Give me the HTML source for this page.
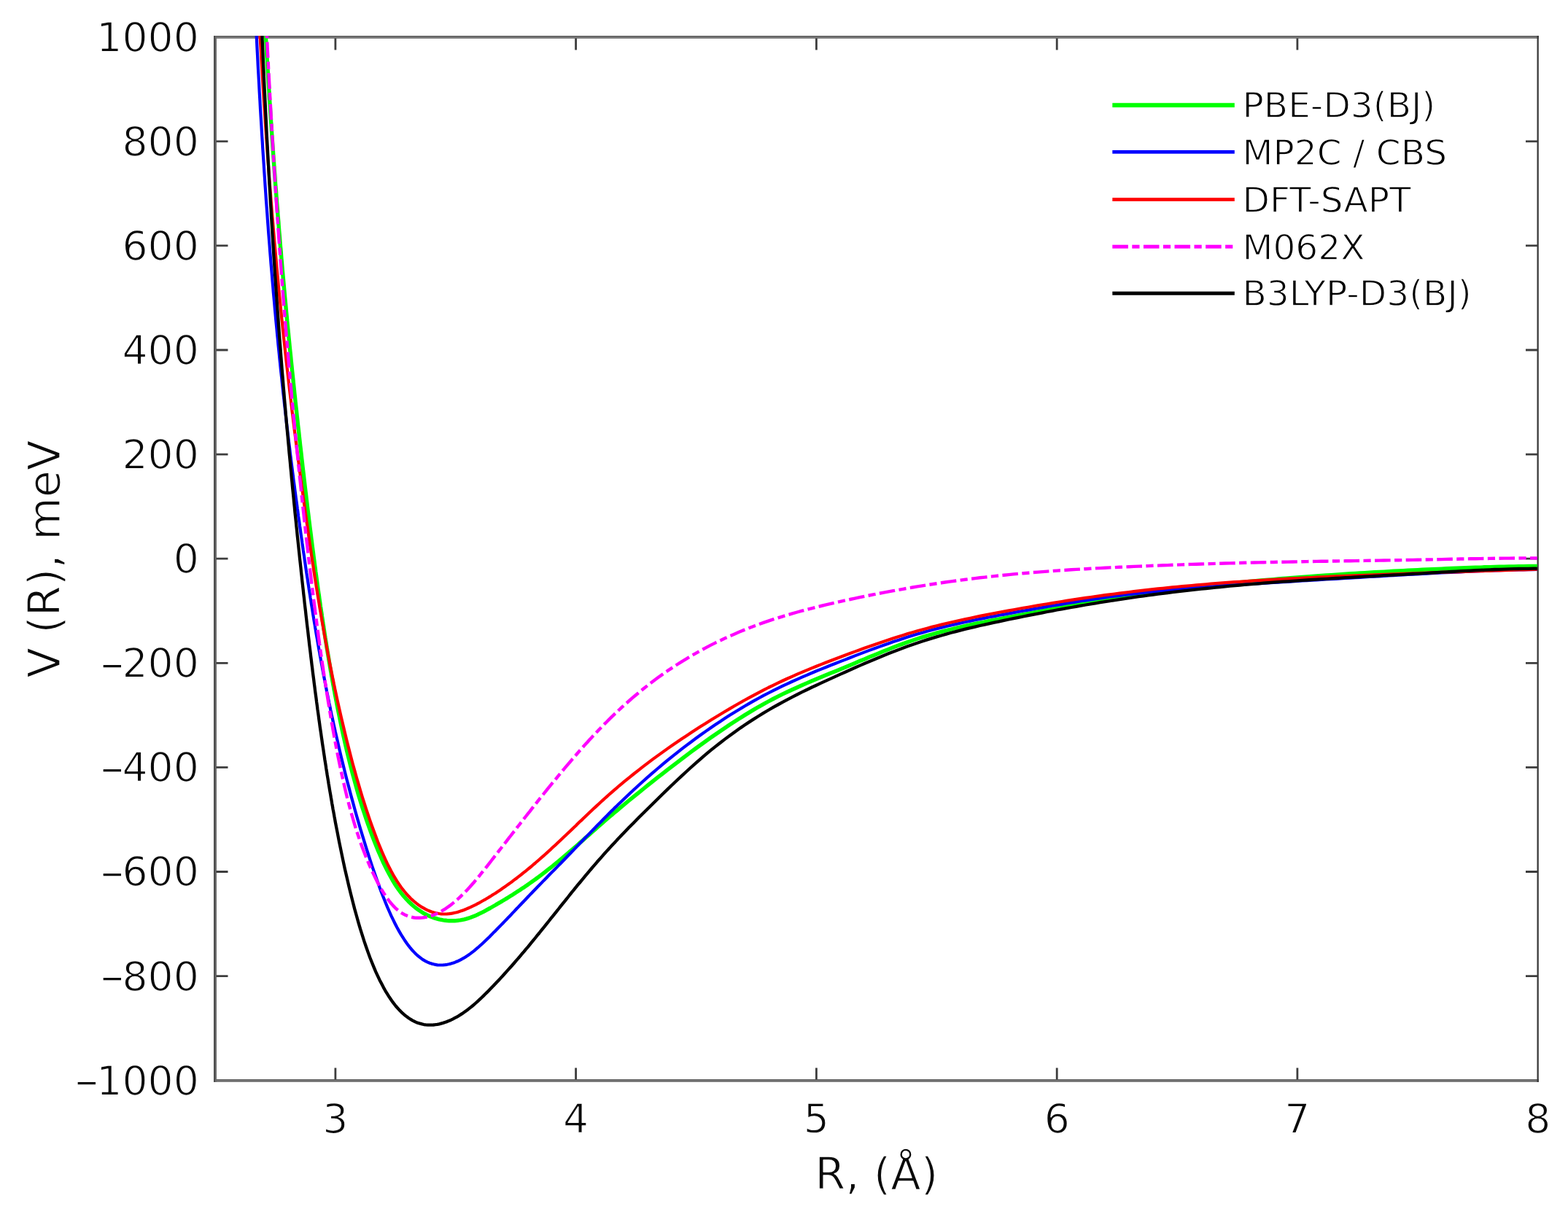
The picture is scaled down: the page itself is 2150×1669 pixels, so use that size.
<!DOCTYPE html>
<html lang="en">
<head>
<meta charset="utf-8">
<title>V(R) interaction potential curves</title>
<style>
html,body{margin:0;padding:0;background:#fff;}
body{width:2150px;height:1669px;overflow:hidden;}
svg{display:block;}
text{font-family:"DejaVu Sans","Liberation Sans",sans-serif;fill:#0a0a0a;stroke:#fff;stroke-width:1.3px;stroke-linejoin:round;}
.tk{font-size:55.2px;}
.lb{font-size:60.5px;}
.lg{font-size:48.6px;fill:#000;}
.t{stroke:#3d3d3d;stroke-width:2.8;fill:none;}
.c{fill:none;stroke-linejoin:round;stroke-linecap:butt;}
</style>
</head>
<body>
<svg xmlns="http://www.w3.org/2000/svg" width="2150" height="1669" viewBox="0 0 2150 1669">
<rect width="2150" height="1669" fill="#fff"/>
<defs><clipPath id="ax"><rect x="293" y="49.2" width="1814.8" height="1433"/></clipPath></defs>
<g id="spines">
<rect x="293" y="49" width="1817" height="2" fill="#676767"/><rect x="293" y="51" width="1817" height="2" fill="#808080"/>
<rect x="293" y="1480" width="1817" height="2" fill="#6b6b6b"/><rect x="293" y="1482" width="1817" height="2" fill="#7b7b7b"/>
<rect x="293" y="49" width="2" height="1435" fill="#4e4e4e"/><rect x="295" y="49" width="2" height="1435" fill="#6a6a6a"/>
<rect x="2107.5" y="49" width="2.3" height="1435" fill="#3a3a3a"/>
</g>
<path class="t" d="M459.9 1480.5v-16.0M459.9 52.5v16.0M789.6 1480.5v-16.0M789.6 52.5v16.0M1119.4 1480.5v-16.0M1119.4 52.5v16.0M1449.2 1480.5v-16.0M1449.2 52.5v16.0M1778.9 1480.5v-16.0M1778.9 52.5v16.0M296.5 1338.6h16.0M2108.0 1338.6h-16.0M296.5 1195.5h16.0M2108.0 1195.5h-16.0M296.5 1052.4h16.0M2108.0 1052.4h-16.0M296.5 909.3h16.0M2108.0 909.3h-16.0M296.5 766.2h16.0M2108.0 766.2h-16.0M296.5 623.1h16.0M2108.0 623.1h-16.0M296.5 480.0h16.0M2108.0 480.0h-16.0M296.5 336.9h16.0M2108.0 336.9h-16.0M296.5 193.8h16.0M2108.0 193.8h-16.0"/>
<g clip-path="url(#ax)">
<path class="c" d="M360.3 -27.0l0.7 12.8l0.6 12.6l0.7 12.4l0.6 12.2l0.7 12l0.7 11.8l0.6 11.6l0.7 11.4l0.6 11.3l0.7 11l0.7 10.9l0.6 10.8l0.7 10.5l0.6 10.5l0.7 10.2l0.7 10.2l0.6 9.9l0.7 9.9l0.6 9.7l0.7 9.5l0.7 9.5l0.6 9.3l0.7 9.2l0.6 9.1l0.7 8.9l0.6 8.9l0.7 8.7l0.7 8.7l0.6 8.5l0.7 8.5l0.6 8.3l0.7 8.3l0.7 8.1l0.6 8.1l0.7 8l0.6 7.9l0.7 7.8l0.7 7.7l0.6 7.7l0.7 7.5l0.6 7.5l0.7 7.5l0.7 7.3l0.6 7.3l0.7 7.2l0.6 7.2l0.7 7.1l0.7 7l0.6 7l0.7 6.9l0.6 6.9l0.7 6.8l0.7 6.7l0.6 6.7l0.7 6.7l0.6 6.6l0.7 6.5l0.7 6.5l0.6 6.5l0.7 6.4l0.6 6.4l0.7 6.4l0.7 6.3l0.6 6.2l0.7 6.3l0.6 6.2l0.7 6.1l0.6 6.2l0.7 6.1l0.7 6l0.6 6.1l0.7 6l0.6 6l0.7 5.9l0.7 6l0.6 5.9l0.7 5.9l0.6 5.9l0.7 5.8l0.7 5.8l0.6 5.8l0.7 5.8l0.6 5.7l0.7 5.8l0.7 5.7l0.6 5.6l0.7 5.7l0.6 5.6l0.7 5.6l0.7 5.5l0.6 5.5l0.7 5.5l0.6 5.5l0.7 5.4l0.7 5.4l0.6 5.4l0.7 5.4l0.6 5.3l0.7 5.3l0.7 5.2l0.6 5.2l0.7 5.2l0.6 5.1l0.7 5.2l0.7 5l0.6 5.1l0.7 5l0.6 5l0.7 4.9l0.6 5l0.7 4.8l0.7 4.9l0.6 4.8l0.7 4.8l0.6 4.7l0.7 4.7l0.7 4.7l0.6 4.6l0.7 4.6l0.6 4.6l0.7 4.5l0.7 4.5l0.6 4.4l0.7 4.4l0.6 4.4l0.7 4.4l0.7 4.3l0.6 4.2l0.7 4.3l0.6 4.2l0.7 4.1l0.7 4.2l0.6 4.1l0.7 4l0.6 4l0.7 4l0.7 4l0.6 3.9l0.7 3.9l0.6 3.9l0.7 3.8l0.7 3.8l0.6 3.7l0.7 3.7l0.6 3.7l0.7 3.7l0.7 3.6l0.6 3.6l0.7 3.5l0.6 3.6l0.7 3.5l2.6 13.6l2.7 13.2l2.6 12.7l2.6 12.3l2.7 11.8l2.6 11.3l2.7 10.9l2.6 10.5l2.6 10.2l2.7 9.7l2.6 9.4l2.6 9.1l2.7 8.7l2.6 8.5l2.7 8.1l2.6 7.9l2.6 7.6l2.7 7.4l2.6 7.1l2.7 7l2.6 6.6l2.6 6.5l2.7 6.2l2.6 6l2.6 5.8l2.7 5.5l2.6 5.2l2.7 5.1l2.6 4.7l2.6 4.6l2.7 4.3l2.6 4l2.6 3.8l2.7 3.6l2.6 3.3l2.7 3.1l2.6 3l2.6 2.7l2.7 2.6l2.6 2.4l2.7 2.3l2.6 2.1l2.6 1.9l2.7 1.8l2.6 1.7l2.6 1.6l2.7 1.4l2.6 1.3l2.7 1.2l2.6 1.1l2.6 1l2.7 0.8l2.6 0.8l2.6 0.7l2.7 0.5l2.6 0.5l2.7 0.3l2.6 0.3l2.6 0.2l2.7 0.1l2.6 -0l2.7 -0.1l2.6 -0.2l2.6 -0.3l2.7 -0.4l2.6 -0.5l2.6 -0.5l2.7 -0.7l2.6 -0.8l2.7 -0.8l2.6 -1l2.6 -1l2.7 -1.1l2.6 -1.2l2.6 -1.3l2.7 -1.3l2.6 -1.3l2.7 -1.4l2.6 -1.5l2.6 -1.4l2.7 -1.5l2.6 -1.5l2.7 -1.5l2.6 -1.6l2.6 -1.5l2.7 -1.5l2.6 -1.6l2.6 -1.6l2.7 -1.6l2.6 -1.6l2.7 -1.7l2.6 -1.6l2.6 -1.7l2.7 -1.7l2.6 -1.7l2.6 -1.7l2.7 -1.8l2.6 -1.7l2.7 -1.8l2.6 -1.9l2.6 -1.8l2.7 -1.9l2.6 -1.9l2.7 -1.9l2.6 -1.9l2.6 -2l2.7 -2l2.6 -2l2.6 -2l2.7 -2.1l2.6 -2l2.7 -2.1l2.6 -2.1l2.6 -2.2l2.7 -2.1l2.6 -2.2l2.6 -2.2l2.7 -2.2l2.6 -2.2l2.7 -2.3l2.6 -2.2l2.6 -2.3l2.7 -2.3l2.6 -2.3l2.7 -2.3l2.6 -2.3l2.6 -2.3l2.7 -2.4l2.6 -2.3l2.6 -2.4l2.7 -2.3l2.6 -2.3l2.7 -2.4l2.6 -2.3l2.6 -2.3l2.7 -2.4l2.6 -2.3l2.6 -2.3l2.7 -2.3l2.6 -2.3l2.7 -2.3l2.6 -2.2l2.6 -2.3l2.7 -2.2l2.6 -2.3l2.7 -2.2l2.6 -2.2l2.6 -2.2l2.7 -2.2l2.6 -2.2l0 -0l6.6 -5.5l6.6 -5.4l6.6 -5.3l6.6 -5.3l6.6 -5.3l6.6 -5.3l6.6 -5.2l6.6 -5.1l6.6 -5.2l6.6 -5.1l6.6 -5l6.5 -5l6.6 -5l6.6 -4.9l6.6 -4.9l6.6 -4.8l6.6 -4.7l6.6 -4.7l6.6 -4.6l6.6 -4.5l6.6 -4.5l6.6 -4.4l6.6 -4.3l6.6 -4.2l6.6 -4.2l6.6 -4l6.6 -3.9l6.6 -3.9l6.6 -3.7l6.6 -3.6l6.6 -3.5l6.6 -3.3l6.5 -3.3l6.6 -3.1l6.6 -3.1l6.6 -3l6.6 -2.9l6.6 -2.9l6.6 -2.8l6.6 -2.8l6.6 -2.7l6.6 -2.8l6.6 -2.7l6.6 -2.7l6.6 -2.7l6.6 -2.8l6.6 -2.7l6.6 -2.8l6.6 -2.8l6.6 -2.7l6.6 -2.8l6.6 -2.7l6.6 -2.7l6.5 -2.7l6.6 -2.6l6.6 -2.6l6.6 -2.5l6.6 -2.4l6.6 -2.4l6.6 -2.3l6.6 -2.2l6.6 -2.1l6.6 -2l6.6 -1.9l6.6 -1.9l6.6 -1.8l6.6 -1.7l6.6 -1.6l6.6 -1.6l6.6 -1.6l6.6 -1.4l6.6 -1.5l6.6 -1.4l6.6 -1.4l6.6 -1.3l6.5 -1.3l6.6 -1.3l6.6 -1.3l6.6 -1.3l6.6 -1.2l6.6 -1.3l6.6 -1.2l6.6 -1.3l6.6 -1.2l6.6 -1.3l6.6 -1.2l6.6 -1.3l6.6 -1.2l6.6 -1.2l6.6 -1.2l6.6 -1.3l6.6 -1.2l6.6 -1.1l6.6 -1.2l6.6 -1.2l6.6 -1.2l6.5 -1.1l6.6 -1.1l6.6 -1.1l6.6 -1.1l6.6 -1.1l6.6 -1.1l6.6 -1l6.6 -1.1l6.6 -1l6.6 -1l6.6 -1l6.6 -0.9l6.6 -0.9l6.6 -1l6.6 -0.9l6.6 -0.8l6.6 -0.9l6.6 -0.8l6.6 -0.9l6.6 -0.8l6.6 -0.8l6.5 -0.7l6.6 -0.8l6.6 -0.8l6.6 -0.7l6.6 -0.7l6.6 -0.7l6.6 -0.7l6.6 -0.7l6.6 -0.6l6.6 -0.7l6.6 -0.6l6.6 -0.6l6.6 -0.6l6.6 -0.6l6.6 -0.6l6.6 -0.6l6.6 -0.6l6.6 -0.5l6.6 -0.6l6.6 -0.5l6.6 -0.6l6.5 -0.5l6.6 -0.5l6.6 -0.5l6.6 -0.5l6.6 -0.5l6.6 -0.5l6.6 -0.4l6.6 -0.5l6.6 -0.4l6.6 -0.5l6.6 -0.4l6.6 -0.5l6.6 -0.4l6.6 -0.4l6.6 -0.4l6.6 -0.4l6.6 -0.4l6.6 -0.4l6.6 -0.4l6.6 -0.3l6.6 -0.4l6.5 -0.4l6.6 -0.3l6.6 -0.3l6.6 -0.4l6.6 -0.3l6.6 -0.4l6.6 -0.3l6.6 -0.3l6.6 -0.3l6.6 -0.3l6.6 -0.3l6.6 -0.3l6.6 -0.3l6.6 -0.2l6.6 -0.3l6.6 -0.3l6.6 -0.2l6.6 -0.2l6.6 -0.2l6.6 -0.3l6.6 -0.2l6.5 -0.1l6.6 -0.2l6.6 -0.2l6.6 -0.1l6.6 -0.1l6.6 -0.2l6.6 -0.1l6.6 -0.1l6.6 -0l6.6 -0.1l6.6 -0l6.6 -0l6.6 -0l6.6 -0l6.6 0l6.6 0.1" stroke="#00ff00" stroke-width="5.4"/>
<path class="c" d="M347.8 -33.6l0.7 14.7l0.6 14.5l0.7 14.2l0.6 13.9l0.7 13.6l0.7 13.4l0.6 13.1l0.7 12.9l0.6 12.7l0.7 12.4l0.7 12.3l0.6 12l0.7 11.7l0.6 11.6l0.7 11.4l0.7 11.2l0.6 11l0.7 10.8l0.6 10.6l0.7 10.4l0.7 10.3l0.6 10.1l0.7 9.9l0.6 9.8l0.7 9.7l0.6 9.4l0.7 9.4l0.7 9.1l0.6 9.1l0.7 8.9l0.6 8.8l0.7 8.6l0.7 8.6l0.6 8.4l0.7 8.3l0.6 8.1l0.7 8.1l0.7 8l0.6 7.8l0.7 7.7l0.6 7.7l0.7 7.5l0.7 7.5l0.6 7.3l0.7 7.3l0.6 7.2l0.7 7.1l0.7 7l0.6 7l0.7 6.8l0.6 6.8l0.7 6.7l0.7 6.7l0.6 6.5l0.7 6.5l0.6 6.4l0.7 6.4l0.7 6.3l0.6 6.2l0.7 6.2l0.6 6.1l0.7 6.1l0.7 5.9l0.6 6l0.7 5.9l0.6 5.8l0.7 5.8l0.6 5.7l0.7 5.7l0.7 5.6l0.6 5.6l0.7 5.5l0.6 5.5l0.7 5.4l0.7 5.4l0.6 5.4l0.7 5.3l0.6 5.3l0.7 5.2l0.7 5.3l0.6 5.1l0.7 5.2l0.6 5.1l0.7 5l0.7 5.1l0.6 5l0.7 5l0.6 4.9l0.7 4.9l0.7 4.9l0.6 4.9l0.7 4.8l0.6 4.9l0.7 4.8l0.7 4.7l0.6 4.8l0.7 4.7l0.6 4.7l0.7 4.7l0.7 4.6l0.6 4.7l0.7 4.6l0.6 4.6l0.7 4.5l0.7 4.6l0.6 4.5l0.7 4.5l0.6 4.4l0.7 4.5l0.6 4.4l0.7 4.4l0.7 4.4l0.6 4.3l0.7 4.3l0.6 4.3l0.7 4.3l0.7 4.2l0.6 4.2l0.7 4.2l0.6 4.2l0.7 4.1l0.7 4.1l0.6 4.1l0.7 4.1l0.6 4l0.7 4l0.7 4l0.6 4l0.7 3.9l0.6 3.9l0.7 3.9l0.7 3.8l0.6 3.9l0.7 3.8l0.6 3.7l0.7 3.8l0.7 3.7l0.6 3.7l0.7 3.7l0.6 3.6l0.7 3.6l0.7 3.6l0.6 3.6l0.7 3.5l0.6 3.5l0.7 3.5l0.7 3.5l0.6 3.4l0.7 3.4l0.6 3.4l0.7 3.3l0.6 3.3l0.7 3.4l0.7 3.2l0.6 3.3l0.7 3.2l0.6 3.2l0.7 3.2l0.7 3.2l0.6 3.1l0.7 3.2l0.6 3.1l0.7 3.1l0.7 3l0.6 3.1l0.7 3l0.6 3l0.7 3l0.7 3l0.6 2.9l2.7 11.6l2.6 11.3l2.6 11.1l2.7 10.8l2.6 10.6l2.6 10.4l2.7 10.1l2.6 10l2.7 9.7l2.6 9.6l2.6 9.4l2.7 9.2l2.6 9l2.7 8.8l2.6 8.6l2.6 8.5l2.7 8.3l2.6 8.1l2.6 8l2.7 7.8l2.6 7.6l2.7 7.4l2.6 7.3l2.6 7l2.7 6.8l2.6 6.6l2.6 6.3l2.7 6.1l2.6 5.8l2.7 5.6l2.6 5.3l2.6 5.1l2.7 4.8l2.6 4.5l2.7 4.3l2.6 4.1l2.6 3.8l2.7 3.6l2.6 3.3l2.6 3.1l2.7 2.8l2.6 2.6l2.7 2.4l2.6 2.1l2.6 2l2.7 1.7l2.6 1.4l2.6 1.3l2.7 1.1l2.6 0.9l2.7 0.7l2.6 0.6l2.6 0.4l2.7 0.2l2.6 0l2.7 -0.1l2.6 -0.2l2.6 -0.4l2.7 -0.5l2.6 -0.7l2.6 -0.8l2.7 -0.9l2.6 -1.1l2.7 -1.1l2.6 -1.4l2.6 -1.4l2.7 -1.5l2.6 -1.7l2.6 -1.7l2.7 -1.9l2.6 -2l2.7 -2l2.6 -2.2l2.6 -2.2l2.7 -2.4l2.6 -2.3l2.7 -2.5l2.6 -2.5l2.6 -2.5l2.7 -2.6l2.6 -2.6l2.6 -2.7l2.7 -2.6l2.6 -2.7l2.7 -2.7l2.6 -2.7l2.6 -2.7l2.7 -2.8l2.6 -2.7l2.6 -2.8l2.7 -2.7l2.6 -2.8l2.7 -2.8l2.6 -2.8l2.6 -2.7l2.7 -2.8l2.6 -2.8l2.7 -2.8l2.6 -2.7l2.6 -2.8l2.7 -2.8l2.6 -2.7l2.6 -2.7l2.7 -2.8l2.6 -2.7l2.7 -2.7l2.6 -2.7l2.6 -2.7l2.7 -2.7l2.6 -2.7l2.6 -2.7l2.7 -2.7l2.6 -2.7l2.7 -2.6l2.6 -2.7l2.6 -2.7l2.7 -2.7l2.6 -2.7l2.7 -2.8l2.6 -2.7l2.6 -2.7l2.7 -2.7l2.6 -2.8l2.6 -2.7l2.7 -2.8l2.6 -2.7l2.7 -2.8l2.6 -2.7l2.6 -2.8l2.7 -2.7l2.6 -2.7l2.7 -2.8l2.6 -2.7l2.6 -2.7l2.7 -2.7l2.6 -2.7l2.6 -2.7l2.7 -2.7l2.6 -2.7l2.7 -2.7l2.6 -2.6l2.6 -2.6l2.7 -2.7l2.6 -2.6l2.6 -2.6l2.7 -2.5l2.6 -2.6l2.7 -2.6l2.6 -2.5l2.6 -2.5l0 -0l6.6 -6.3l6.6 -6.1l6.6 -6.1l6.6 -6l6.6 -5.8l6.6 -5.8l6.6 -5.6l6.6 -5.6l6.6 -5.5l6.6 -5.3l6.6 -5.3l6.6 -5.1l6.6 -5.1l6.6 -4.9l6.6 -4.9l6.6 -4.8l6.6 -4.6l6.6 -4.6l6.5 -4.5l6.6 -4.4l6.6 -4.3l6.6 -4.3l6.6 -4.1l6.6 -4l6.6 -4l6.6 -3.8l6.6 -3.7l6.6 -3.7l6.6 -3.6l6.6 -3.4l6.6 -3.4l6.6 -3.3l6.6 -3.1l6.6 -3.1l6.6 -3.1l6.6 -2.9l6.6 -2.9l6.6 -2.9l6.6 -2.8l6.5 -2.7l6.6 -2.7l6.6 -2.6l6.6 -2.7l6.6 -2.6l6.6 -2.6l6.6 -2.5l6.6 -2.6l6.6 -2.6l6.6 -2.5l6.6 -2.5l6.6 -2.5l6.6 -2.4l6.6 -2.4l6.6 -2.4l6.6 -2.3l6.6 -2.3l6.6 -2.2l6.6 -2.2l6.6 -2.1l6.6 -2l6.5 -2l6.6 -1.9l6.6 -1.9l6.6 -1.8l6.6 -1.7l6.6 -1.7l6.6 -1.6l6.6 -1.5l6.6 -1.6l6.6 -1.4l6.6 -1.5l6.6 -1.4l6.6 -1.3l6.6 -1.4l6.6 -1.3l6.6 -1.3l6.6 -1.2l6.6 -1.3l6.6 -1.2l6.6 -1.2l6.6 -1.3l6.5 -1.2l6.6 -1.2l6.6 -1.1l6.6 -1.2l6.6 -1.2l6.6 -1.1l6.6 -1.2l6.6 -1.1l6.6 -1.1l6.6 -1.1l6.6 -1.1l6.6 -1.1l6.6 -1l6.6 -1.1l6.6 -1l6.6 -1l6.6 -1l6.6 -0.9l6.6 -1l6.6 -0.9l6.6 -0.9l6.5 -0.8l6.6 -0.9l6.6 -0.8l6.6 -0.8l6.6 -0.7l6.6 -0.8l6.6 -0.7l6.6 -0.7l6.6 -0.7l6.6 -0.6l6.6 -0.6l6.6 -0.7l6.6 -0.6l6.6 -0.5l6.6 -0.6l6.6 -0.5l6.6 -0.6l6.6 -0.5l6.6 -0.5l6.6 -0.4l6.6 -0.5l6.5 -0.5l6.6 -0.4l6.6 -0.5l6.6 -0.4l6.6 -0.5l6.6 -0.4l6.6 -0.4l6.6 -0.4l6.6 -0.4l6.6 -0.4l6.6 -0.4l6.6 -0.4l6.6 -0.4l6.6 -0.4l6.6 -0.4l6.6 -0.4l6.6 -0.4l6.6 -0.5l6.6 -0.4l6.6 -0.4l6.6 -0.4l6.6 -0.4l6.5 -0.4l6.6 -0.4l6.6 -0.3l6.6 -0.4l6.6 -0.4l6.6 -0.4l6.6 -0.4l6.6 -0.4l6.6 -0.4l6.6 -0.4l6.6 -0.4l6.6 -0.3l6.6 -0.4l6.6 -0.4l6.6 -0.4l6.6 -0.4l6.6 -0.3l6.6 -0.4l6.6 -0.4l6.6 -0.3l6.6 -0.4l6.5 -0.3l6.6 -0.4l6.6 -0.3l6.6 -0.4l6.6 -0.3l6.6 -0.3l6.6 -0.3l6.6 -0.3l6.6 -0.3l6.6 -0.3l6.6 -0.3l6.6 -0.3l6.6 -0.2l6.6 -0.3l6.6 -0.2l6.6 -0.2l6.6 -0.2l6.6 -0.2l6.6 -0.2l6.6 -0.1l6.6 -0.2l6.5 -0.1l6.6 -0.1l6.6 -0.1l6.6 -0l6.6 -0.1l6.6 0l6.6 0l6.6 0.1l6.6 0" stroke="#0000ff" stroke-width="4.2"/>
<path class="c" d="M352.4 -29.7l0.7 13.1l0.6 12.8l0.7 12.6l0.6 12.4l0.7 12.2l0.7 12l0.6 11.8l0.7 11.5l0.6 11.4l0.7 11.2l0.7 11l0.6 10.8l0.7 10.6l0.6 10.5l0.7 10.3l0.7 10.1l0.6 10l0.7 9.9l0.6 9.6l0.7 9.6l0.7 9.3l0.6 9.3l0.7 9.1l0.6 9l0.7 8.8l0.6 8.8l0.7 8.6l0.7 8.5l0.6 8.3l0.7 8.3l0.6 8.1l0.7 8.1l0.7 7.9l0.6 7.9l0.7 7.7l0.6 7.7l0.7 7.5l0.7 7.5l0.6 7.4l0.7 7.3l0.6 7.2l0.7 7.2l0.7 7l0.6 7l0.7 6.9l0.6 6.8l0.7 6.8l0.7 6.7l0.6 6.6l0.7 6.6l0.6 6.5l0.7 6.4l0.7 6.4l0.6 6.3l0.7 6.2l0.6 6.2l0.7 6.2l0.7 6.1l0.6 6l0.7 6l0.6 5.9l0.7 5.9l0.7 5.8l0.6 5.8l0.7 5.8l0.6 5.7l0.7 5.6l0.6 5.7l0.7 5.5l0.7 5.6l0.6 5.5l0.7 5.5l0.6 5.4l0.7 5.4l0.7 5.4l0.6 5.3l0.7 5.3l0.6 5.3l0.7 5.2l0.7 5.2l0.6 5.2l0.7 5.2l0.6 5.1l0.7 5.1l0.7 5.1l0.6 5.1l0.7 5.1l0.6 5l0.7 5l0.7 5l0.6 4.9l0.7 5l0.6 4.9l0.7 4.9l0.7 4.9l0.6 4.8l0.7 4.9l0.6 4.8l0.7 4.8l0.7 4.7l0.6 4.8l0.7 4.7l0.6 4.7l0.7 4.7l0.7 4.6l0.6 4.6l0.7 4.6l0.6 4.6l0.7 4.6l0.6 4.5l0.7 4.5l0.7 4.4l0.6 4.5l0.7 4.4l0.6 4.4l0.7 4.4l0.7 4.3l0.6 4.3l0.7 4.3l0.6 4.3l0.7 4.2l0.7 4.2l0.6 4.2l0.7 4.1l0.6 4.1l0.7 4.1l0.7 4.1l0.6 4l0.7 4l0.6 4l0.7 4l0.7 3.9l0.6 3.9l0.7 3.9l0.6 3.8l0.7 3.8l0.7 3.8l0.6 3.8l0.7 3.7l0.6 3.7l0.7 3.7l0.7 3.6l0.6 3.6l0.7 3.6l0.6 3.6l0.7 3.5l0.7 3.5l0.6 3.5l0.7 3.5l0.6 3.4l0.7 3.4l0.6 3.4l0.7 3.3l0.7 3.4l0.6 3.3l0.7 3.3l0.6 3.2l0.7 3.3l0.7 3.2l0.6 3.2l0.7 3.2l0.6 3.1l0.7 3.1l2.6 12.3l2.7 12l2.6 11.6l2.7 11.3l2.6 11l2.6 10.8l2.7 10.4l2.6 10.2l2.6 10l2.7 9.6l2.6 9.4l2.7 9.2l2.6 8.9l2.6 8.7l2.7 8.4l2.6 8.2l2.7 8l2.6 7.7l2.6 7.5l2.7 7.3l2.6 7l2.6 6.9l2.7 6.6l2.6 6.3l2.7 6.1l2.6 5.8l2.6 5.6l2.7 5.3l2.6 5.1l2.6 4.8l2.7 4.5l2.6 4.3l2.7 4l2.6 3.8l2.6 3.5l2.7 3.3l2.6 3.1l2.7 2.9l2.6 2.7l2.6 2.5l2.7 2.3l2.6 2.2l2.6 2l2.7 1.8l2.6 1.7l2.7 1.5l2.6 1.4l2.6 1.3l2.7 1.1l2.6 1l2.6 0.8l2.7 0.7l2.6 0.6l2.7 0.4l2.6 0.3l2.6 0.2l2.7 0l2.6 -0.1l2.7 -0.2l2.6 -0.4l2.6 -0.4l2.7 -0.6l2.6 -0.6l2.6 -0.8l2.7 -0.8l2.6 -0.9l2.7 -1l2.6 -1.1l2.6 -1.1l2.7 -1.1l2.6 -1.3l2.6 -1.2l2.7 -1.3l2.6 -1.4l2.7 -1.4l2.6 -1.5l2.6 -1.5l2.7 -1.5l2.6 -1.6l2.7 -1.6l2.6 -1.6l2.6 -1.7l2.7 -1.6l2.6 -1.8l2.6 -1.7l2.7 -1.8l2.6 -1.8l2.7 -1.8l2.6 -1.9l2.6 -1.9l2.7 -1.9l2.6 -1.9l2.6 -2l2.7 -2l2.6 -2l2.7 -2.1l2.6 -2.1l2.6 -2.1l2.7 -2.1l2.6 -2.1l2.7 -2.2l2.6 -2.2l2.6 -2.3l2.7 -2.2l2.6 -2.3l2.6 -2.3l2.7 -2.3l2.6 -2.3l2.7 -2.4l2.6 -2.3l2.6 -2.4l2.7 -2.4l2.6 -2.5l2.6 -2.4l2.7 -2.5l2.6 -2.4l2.7 -2.5l2.6 -2.5l2.6 -2.5l2.7 -2.5l2.6 -2.5l2.7 -2.5l2.6 -2.6l2.6 -2.5l2.7 -2.5l2.6 -2.6l2.6 -2.5l2.7 -2.5l2.6 -2.5l2.7 -2.6l2.6 -2.5l2.6 -2.5l2.7 -2.5l2.6 -2.5l2.6 -2.4l2.7 -2.5l2.6 -2.4l2.7 -2.4l2.6 -2.4l2.6 -2.4l2.7 -2.4l2.6 -2.3l2.7 -2.4l2.6 -2.3l2.6 -2.2l2.7 -2.3l2.6 -2.3l2.6 -2.2l2.7 -2.2l2.6 -2.2l0 0l6.6 -5.4l6.6 -5.3l6.6 -5.2l6.6 -5.1l6.6 -5l6.6 -5l6.6 -4.8l6.6 -4.8l6.6 -4.7l6.6 -4.6l6.6 -4.5l6.6 -4.5l6.6 -4.4l6.6 -4.3l6.5 -4.3l6.6 -4.2l6.6 -4.1l6.6 -4.2l6.6 -4l6.6 -4l6.6 -4l6.6 -3.9l6.6 -3.9l6.6 -3.8l6.6 -3.7l6.6 -3.6l6.6 -3.6l6.6 -3.5l6.6 -3.4l6.6 -3.4l6.6 -3.2l6.6 -3.2l6.6 -3.1l6.6 -3l6.6 -2.9l6.5 -2.9l6.6 -2.8l6.6 -2.8l6.6 -2.7l6.6 -2.7l6.6 -2.6l6.6 -2.6l6.6 -2.5l6.6 -2.5l6.6 -2.5l6.6 -2.5l6.6 -2.5l6.6 -2.4l6.6 -2.4l6.6 -2.4l6.6 -2.3l6.6 -2.3l6.6 -2.3l6.6 -2.2l6.6 -2.2l6.6 -2.2l6.5 -2.1l6.6 -2l6.6 -2.1l6.6 -1.9l6.6 -1.9l6.6 -1.8l6.6 -1.8l6.6 -1.8l6.6 -1.6l6.6 -1.7l6.6 -1.6l6.6 -1.5l6.6 -1.5l6.6 -1.5l6.6 -1.4l6.6 -1.4l6.6 -1.4l6.6 -1.4l6.6 -1.3l6.6 -1.3l6.6 -1.2l6.6 -1.3l6.5 -1.2l6.6 -1.2l6.6 -1.2l6.6 -1.2l6.6 -1.2l6.6 -1.1l6.6 -1.2l6.6 -1.1l6.6 -1.1l6.6 -1.1l6.6 -1.1l6.6 -1.1l6.6 -1l6.6 -1.1l6.6 -1l6.6 -1l6.6 -1l6.6 -1l6.6 -0.9l6.6 -1l6.6 -0.9l6.5 -0.9l6.6 -0.9l6.6 -0.8l6.6 -0.9l6.6 -0.8l6.6 -0.8l6.6 -0.8l6.6 -0.8l6.6 -0.8l6.6 -0.7l6.6 -0.7l6.6 -0.8l6.6 -0.6l6.6 -0.7l6.6 -0.7l6.6 -0.6l6.6 -0.6l6.6 -0.6l6.6 -0.6l6.6 -0.6l6.6 -0.6l6.5 -0.5l6.6 -0.6l6.6 -0.5l6.6 -0.5l6.6 -0.5l6.6 -0.5l6.6 -0.5l6.6 -0.4l6.6 -0.5l6.6 -0.4l6.6 -0.5l6.6 -0.4l6.6 -0.4l6.6 -0.4l6.6 -0.4l6.6 -0.4l6.6 -0.3l6.6 -0.4l6.6 -0.4l6.6 -0.3l6.6 -0.3l6.5 -0.4l6.6 -0.3l6.6 -0.3l6.6 -0.3l6.6 -0.4l6.6 -0.3l6.6 -0.3l6.6 -0.2l6.6 -0.3l6.6 -0.3l6.6 -0.3l6.6 -0.3l6.6 -0.2l6.6 -0.3l6.6 -0.2l6.6 -0.3l6.6 -0.2l6.6 -0.3l6.6 -0.2l6.6 -0.3l6.6 -0.2l6.5 -0.2l6.6 -0.3l6.6 -0.2l6.6 -0.2l6.6 -0.3l6.6 -0.2l6.6 -0.2l6.6 -0.3l6.6 -0.2l6.6 -0.2l6.6 -0.2l6.6 -0.2l6.6 -0.3l6.6 -0.2l6.6 -0.2l6.6 -0.2l6.6 -0.2l6.6 -0.2l6.6 -0.3l6.6 -0.2l6.6 -0.2l6.5 -0.2l6.6 -0.2l6.6 -0.2l6.6 -0.2l6.6 -0.2l6.6 -0.2l6.6 -0.2l6.6 -0.3l6.6 -0.2l6.6 -0.2l6.6 -0.2l6.6 -0.2l6.6 -0.2" stroke="#ff0000" stroke-width="4.2"/>
<path class="c" d="M362.3 -27.4l0.7 14.6l0.6 14.3l0.7 14.1l0.6 13.9l0.7 13.6l0.7 13.3l0.6 13.2l0.7 12.9l0.6 12.8l0.7 12.5l0.7 12.3l0.6 12.1l0.7 11.9l0.6 11.8l0.7 11.6l0.7 11.4l0.6 11.2l0.7 11.1l0.6 10.9l0.7 10.7l0.7 10.6l0.6 10.5l0.7 10.3l0.6 10.2l0.7 10l0.6 10l0.7 9.7l0.7 9.7l0.6 9.6l0.7 9.4l0.6 9.3l0.7 9.2l0.7 9.1l0.6 9l0.7 8.8l0.6 8.8l0.7 8.7l0.7 8.6l0.6 8.4l0.7 8.4l0.6 8.3l0.7 8.3l0.7 8.1l0.6 8l0.7 8l0.6 7.9l0.7 7.8l0.7 7.7l0.6 7.7l0.7 7.5l0.6 7.6l0.7 7.4l0.7 7.4l0.6 7.3l0.7 7.3l0.6 7.2l0.7 7.1l0.7 7.1l0.6 7l0.7 7l0.6 6.9l0.7 6.8l0.7 6.9l0.6 6.7l0.7 6.7l0.6 6.7l0.7 6.6l0.6 6.6l0.7 6.6l0.7 6.4l0.6 6.5l0.7 6.4l0.6 6.4l0.7 6.4l0.7 6.3l0.6 6.2l0.7 6.3l0.6 6.2l0.7 6.1l0.7 6.2l0.6 6.1l0.7 6l0.6 6l0.7 6l0.7 5.9l0.6 5.9l0.7 5.9l0.6 5.8l0.7 5.8l0.7 5.7l0.6 5.8l0.7 5.6l0.6 5.6l0.7 5.6l0.7 5.6l0.6 5.5l0.7 5.5l0.6 5.4l0.7 5.4l0.7 5.4l0.6 5.3l0.7 5.2l0.6 5.3l0.7 5.2l0.7 5.1l0.6 5.2l0.7 5l0.6 5.1l0.7 5l0.6 5l0.7 4.9l0.7 4.9l0.6 4.8l0.7 4.8l0.6 4.8l0.7 4.7l0.7 4.7l0.6 4.7l0.7 4.6l0.6 4.6l0.7 4.5l0.7 4.5l0.6 4.5l0.7 4.4l0.6 4.4l0.7 4.3l0.7 4.4l0.6 4.2l0.7 4.3l0.6 4.2l0.7 4.1l0.7 4.2l0.6 4l0.7 4.1l0.6 4l0.7 4l0.7 3.9l0.6 3.9l0.7 3.9l0.6 3.8l0.7 3.8l0.7 3.7l0.6 3.7l0.7 3.7l0.6 3.6l0.7 3.6l0.7 3.6l0.6 3.5l2.6 13.7l2.7 13.2l2.6 12.5l2.7 12l2.6 11.4l2.6 10.9l2.7 10.3l2.6 9.8l2.7 9.3l2.6 8.9l2.6 8.4l2.7 8l2.6 7.7l2.6 7.3l2.7 7l2.6 6.6l2.7 6.4l2.6 6.1l2.6 5.9l2.7 5.6l2.6 5.4l2.6 5.1l2.7 4.9l2.6 4.6l2.7 4.4l2.6 4.1l2.6 3.8l2.7 3.6l2.6 3.2l2.7 3.1l2.6 2.7l2.6 2.4l2.7 2.2l2.6 1.9l2.6 1.7l2.7 1.4l2.6 1.2l2.7 1l2.6 0.8l2.6 0.6l2.7 0.5l2.6 0.2l2.6 0.1l2.7 -0l2.6 -0.2l2.7 -0.3l2.6 -0.4l2.6 -0.6l2.7 -0.7l2.6 -0.9l2.7 -0.9l2.6 -1.1l2.6 -1.2l2.7 -1.3l2.6 -1.4l2.6 -1.6l2.7 -1.6l2.6 -1.8l2.7 -1.9l2.6 -1.9l2.6 -2.1l2.7 -2.2l2.6 -2.3l2.6 -2.3l2.7 -2.5l2.6 -2.6l2.7 -2.6l2.6 -2.7l2.6 -2.8l2.7 -2.9l2.6 -3l2.7 -3l2.6 -3.1l2.6 -3.2l2.7 -3.2l2.6 -3.3l2.6 -3.3l2.7 -3.3l2.6 -3.3l2.7 -3.4l2.6 -3.4l2.6 -3.4l2.7 -3.4l2.6 -3.4l2.6 -3.4l2.7 -3.4l2.6 -3.4l2.7 -3.4l2.6 -3.4l2.6 -3.4l2.7 -3.4l2.6 -3.4l2.7 -3.3l2.6 -3.4l2.6 -3.4l2.7 -3.4l2.6 -3.4l2.6 -3.3l2.7 -3.4l2.6 -3.4l2.7 -3.3l2.6 -3.4l2.6 -3.3l2.7 -3.3l2.6 -3.4l2.6 -3.3l2.7 -3.3l2.6 -3.3l2.7 -3.3l2.6 -3.3l2.6 -3.2l2.7 -3.3l2.6 -3.2l2.7 -3.2l2.6 -3.2l2.6 -3.2l2.7 -3.2l2.6 -3.2l2.6 -3.1l2.7 -3.2l2.6 -3.1l2.7 -3.1l2.6 -3.1l2.6 -3l2.7 -3.1l2.6 -3l2.6 -3l2.7 -3l2.6 -3l2.7 -2.9l2.6 -2.9l2.6 -2.9l2.7 -2.9l2.6 -2.8l2.7 -2.8l2.6 -2.8l2.6 -2.8l2.7 -2.7l2.6 -2.7l2.6 -2.7l2.7 -2.6l2.6 -2.7l2.7 -2.6l2.6 -2.5l2.6 -2.6l2.7 -2.5l2.6 -2.5l2.7 -2.4l2.6 -2.5l2.6 -2.4l0 0l6.6 -5.8l6.6 -5.8l6.6 -5.5l6.6 -5.4l6.6 -5.2l6.6 -5.1l6.6 -4.9l6.6 -4.7l6.6 -4.7l6.6 -4.4l6.6 -4.3l6.6 -4.2l6.6 -4l6.6 -4l6.6 -3.7l6.6 -3.7l6.5 -3.5l6.6 -3.5l6.6 -3.3l6.6 -3.2l6.6 -3.1l6.6 -3l6.6 -2.9l6.6 -2.8l6.6 -2.7l6.6 -2.6l6.6 -2.6l6.6 -2.4l6.6 -2.4l6.6 -2.3l6.6 -2.2l6.6 -2.1l6.6 -2l6.6 -2l6.6 -1.9l6.6 -1.9l6.6 -1.8l6.5 -1.7l6.6 -1.7l6.6 -1.7l6.6 -1.6l6.6 -1.6l6.6 -1.5l6.6 -1.5l6.6 -1.5l6.6 -1.5l6.6 -1.4l6.6 -1.4l6.6 -1.4l6.6 -1.4l6.6 -1.3l6.6 -1.3l6.6 -1.3l6.6 -1.3l6.6 -1.2l6.6 -1.2l6.6 -1.2l6.6 -1.2l6.5 -1.2l6.6 -1.1l6.6 -1.1l6.6 -1.1l6.6 -1l6.6 -1l6.6 -1l6.6 -1l6.6 -1l6.6 -0.9l6.6 -0.9l6.6 -0.9l6.6 -0.8l6.6 -0.9l6.6 -0.8l6.6 -0.8l6.6 -0.7l6.6 -0.8l6.6 -0.7l6.6 -0.7l6.6 -0.7l6.5 -0.6l6.6 -0.7l6.6 -0.6l6.6 -0.6l6.6 -0.5l6.6 -0.6l6.6 -0.5l6.6 -0.5l6.6 -0.5l6.6 -0.5l6.6 -0.5l6.6 -0.4l6.6 -0.4l6.6 -0.5l6.6 -0.4l6.6 -0.4l6.6 -0.3l6.6 -0.4l6.6 -0.4l6.6 -0.3l6.6 -0.3l6.5 -0.4l6.6 -0.3l6.6 -0.3l6.6 -0.3l6.6 -0.3l6.6 -0.3l6.6 -0.3l6.6 -0.2l6.6 -0.3l6.6 -0.3l6.6 -0.2l6.6 -0.3l6.6 -0.2l6.6 -0.3l6.6 -0.2l6.6 -0.2l6.6 -0.3l6.6 -0.2l6.6 -0.2l6.6 -0.2l6.6 -0.2l6.5 -0.2l6.6 -0.2l6.6 -0.2l6.6 -0.2l6.6 -0.1l6.6 -0.2l6.6 -0.2l6.6 -0.2l6.6 -0.1l6.6 -0.2l6.6 -0.1l6.6 -0.2l6.6 -0.1l6.6 -0.1l6.6 -0.2l6.6 -0.1l6.6 -0.1l6.6 -0.1l6.6 -0.1l6.6 -0.2l6.6 -0.1l6.6 -0.1l6.5 -0.1l6.6 -0.1l6.6 -0.1l6.6 -0.1l6.6 -0.1l6.6 -0.1l6.6 -0.1l6.6 -0.1l6.6 -0.1l6.6 -0.1l6.6 -0.1l6.6 -0.1l6.6 -0.1l6.6 -0.1l6.6 -0.1l6.6 -0.1l6.6 -0.1l6.6 -0.1l6.6 -0.1l6.6 -0.1l6.6 -0.1l6.5 -0.2l6.6 -0.1l6.6 -0.1l6.6 -0.1l6.6 -0.2l6.6 -0.1l6.6 -0.2l6.6 -0.1l6.6 -0.1l6.6 -0.2l6.6 -0.1l6.6 -0.1l6.6 -0.1l6.6 -0.1l6.6 -0.1l6.6 -0.1l6.6 -0.1l6.6 -0.1l6.6 -0.1l6.6 -0l6.6 -0.1l6.5 -0l6.6 -0.1l6.6 0l6.6 0l6.6 0.1l6.6 -0l6.6 0l6.6 0.1l6.6 0.1l6.6 0.1l6.6 0.1" stroke="#ff00ff" stroke-width="4.4" stroke-dasharray="21.6 5.4 10.2 5.4"/>
<path class="c" d="M356.3 -25.2l0.7 16.5l0.6 16.2l0.7 15.8l0.6 15.6l0.7 15.2l0.7 15l0.6 14.7l0.7 14.4l0.6 14.2l0.7 13.9l0.7 13.7l0.6 13.4l0.7 13.2l0.6 12.9l0.7 12.8l0.7 12.5l0.6 12.3l0.7 12.1l0.6 11.9l0.7 11.8l0.7 11.5l0.6 11.4l0.7 11.1l0.6 11l0.7 10.9l0.6 10.7l0.7 10.5l0.7 10.4l0.6 10.2l0.7 10.1l0.6 10l0.7 9.8l0.7 9.7l0.6 9.5l0.7 9.4l0.6 9.4l0.7 9.2l0.7 9l0.6 9l0.7 8.9l0.6 8.7l0.7 8.7l0.7 8.5l0.6 8.5l0.7 8.4l0.6 8.2l0.7 8.2l0.7 8.1l0.6 8l0.7 7.9l0.6 7.9l0.7 7.8l0.7 7.7l0.6 7.6l0.7 7.5l0.6 7.5l0.7 7.4l0.7 7.4l0.6 7.3l0.7 7.2l0.6 7.1l0.7 7.2l0.7 7l0.6 7l0.7 6.9l0.6 6.9l0.7 6.9l0.6 6.8l0.7 6.7l0.7 6.7l0.6 6.7l0.7 6.6l0.6 6.6l0.7 6.5l0.7 6.5l0.6 6.5l0.7 6.4l0.6 6.4l0.7 6.3l0.7 6.4l0.6 6.2l0.7 6.3l0.6 6.2l0.7 6.2l0.7 6.2l0.6 6.2l0.7 6.1l0.6 6l0.7 6.1l0.7 6l0.6 6l0.7 5.9l0.6 6l0.7 5.8l0.7 5.9l0.6 5.8l0.7 5.8l0.6 5.7l0.7 5.7l0.7 5.7l0.6 5.6l0.7 5.6l0.6 5.6l0.7 5.5l0.7 5.5l0.6 5.4l0.7 5.4l0.6 5.4l0.7 5.3l0.6 5.3l0.7 5.3l0.7 5.2l0.6 5.2l0.7 5.1l0.6 5.1l0.7 5.1l0.7 5l0.6 5l0.7 4.9l0.6 5l0.7 4.8l0.7 4.9l0.6 4.7l0.7 4.8l0.6 4.7l0.7 4.7l0.7 4.6l0.6 4.6l0.7 4.6l0.6 4.5l0.7 4.5l0.7 4.4l0.6 4.4l0.7 4.3l0.6 4.4l0.7 4.3l0.7 4.2l0.6 4.2l0.7 4.2l0.6 4.1l0.7 4.1l0.7 4.1l0.6 4l0.7 4l0.6 3.9l0.7 4l0.7 3.8l0.6 3.9l0.7 3.8l0.6 3.8l0.7 3.7l0.6 3.8l0.7 3.6l0.7 3.7l0.6 3.6l0.7 3.6l0.6 3.5l2.7 13.9l2.6 13.5l2.7 12.9l2.6 12.5l2.6 12.1l2.7 11.6l2.6 11.3l2.7 10.8l2.6 10.4l2.6 10.1l2.7 9.6l2.6 9.3l2.6 8.9l2.7 8.5l2.6 8.2l2.7 7.8l2.6 7.4l2.6 7.1l2.7 6.8l2.6 6.4l2.6 6.2l2.7 5.8l2.6 5.5l2.7 5.2l2.6 5l2.6 4.7l2.7 4.4l2.6 4.1l2.7 3.9l2.6 3.7l2.6 3.4l2.7 3.2l2.6 2.9l2.6 2.7l2.7 2.6l2.6 2.3l2.7 2.1l2.6 1.9l2.6 1.7l2.7 1.6l2.6 1.4l2.6 1.2l2.7 1l2.6 0.8l2.7 0.7l2.6 0.6l2.6 0.4l2.7 0.2l2.6 0.1l2.7 -0l2.6 -0.2l2.6 -0.3l2.7 -0.4l2.6 -0.5l2.6 -0.7l2.7 -0.7l2.6 -0.9l2.7 -0.9l2.6 -1.1l2.6 -1.1l2.7 -1.3l2.6 -1.4l2.6 -1.4l2.7 -1.5l2.6 -1.7l2.7 -1.7l2.6 -1.8l2.6 -1.9l2.7 -2l2.6 -2.1l2.7 -2.1l2.6 -2.2l2.6 -2.3l2.7 -2.4l2.6 -2.4l2.6 -2.5l2.7 -2.6l2.6 -2.6l2.7 -2.6l2.6 -2.7l2.6 -2.7l2.7 -2.7l2.6 -2.8l2.6 -2.8l2.7 -2.8l2.6 -2.8l2.7 -2.9l2.6 -2.9l2.6 -2.9l2.7 -3l2.6 -2.9l2.7 -3l2.6 -3l2.6 -3.1l2.7 -3l2.6 -3.1l2.6 -3.1l2.7 -3.1l2.6 -3.2l2.7 -3.1l2.6 -3.2l2.6 -3.2l2.7 -3.2l2.6 -3.2l2.6 -3.3l2.7 -3.2l2.6 -3.3l2.7 -3.3l2.6 -3.3l2.6 -3.3l2.7 -3.3l2.6 -3.3l2.7 -3.3l2.6 -3.3l2.6 -3.3l2.7 -3.3l2.6 -3.3l2.6 -3.3l2.7 -3.3l2.6 -3.3l2.7 -3.3l2.6 -3.3l2.6 -3.3l2.7 -3.2l2.6 -3.3l2.6 -3.2l2.7 -3.2l2.6 -3.2l2.7 -3.2l2.6 -3.2l2.6 -3.1l2.7 -3.2l2.6 -3.1l2.7 -3.1l2.6 -3l2.6 -3.1l2.7 -3l2.6 -3l2.6 -3l2.7 -3l2.6 -2.9l2.7 -2.9l2.6 -2.9l2.6 -2.9l2.7 -2.8l2.6 -2.8l2.6 -2.9l2.7 -2.7l2.6 -2.8l2.7 -2.8l-0 0l6.6 -6.8l6.6 -6.7l6.5 -6.6l6.6 -6.6l6.6 -6.5l6.6 -6.5l6.6 -6.5l6.6 -6.5l6.6 -6.3l6.6 -6.4l6.6 -6.2l6.6 -6.2l6.6 -6.1l6.6 -6l6.6 -5.9l6.6 -5.8l6.6 -5.6l6.6 -5.5l6.6 -5.3l6.6 -5.2l6.6 -5.1l6.6 -4.9l6.6 -4.8l6.5 -4.6l6.6 -4.5l6.6 -4.4l6.6 -4.3l6.6 -4.1l6.6 -4.1l6.6 -3.9l6.6 -3.8l6.6 -3.7l6.6 -3.6l6.6 -3.6l6.6 -3.4l6.6 -3.4l6.6 -3.3l6.6 -3.2l6.6 -3.2l6.6 -3.1l6.6 -3.1l6.6 -3l6.6 -3l6.6 -3l6.5 -3l6.6 -2.9l6.6 -3l6.6 -2.9l6.6 -2.9l6.6 -2.8l6.6 -2.8l6.6 -2.8l6.6 -2.8l6.6 -2.7l6.6 -2.7l6.6 -2.6l6.6 -2.5l6.6 -2.5l6.6 -2.4l6.6 -2.3l6.6 -2.3l6.6 -2.2l6.6 -2.1l6.6 -2l6.6 -2l6.6 -1.9l6.5 -1.9l6.6 -1.8l6.6 -1.7l6.6 -1.7l6.6 -1.7l6.6 -1.6l6.6 -1.5l6.6 -1.6l6.6 -1.4l6.6 -1.5l6.6 -1.4l6.6 -1.4l6.6 -1.4l6.6 -1.4l6.6 -1.4l6.6 -1.3l6.6 -1.3l6.6 -1.4l6.6 -1.3l6.6 -1.2l6.6 -1.3l6.5 -1.3l6.6 -1.2l6.6 -1.3l6.6 -1.2l6.6 -1.2l6.6 -1.1l6.6 -1.2l6.6 -1.2l6.6 -1.1l6.6 -1.1l6.6 -1.1l6.6 -1.1l6.6 -1.1l6.6 -1l6.6 -1l6.6 -1l6.6 -1l6.6 -1l6.6 -1l6.6 -0.9l6.6 -0.9l6.5 -0.9l6.6 -0.9l6.6 -0.9l6.6 -0.8l6.6 -0.8l6.6 -0.8l6.6 -0.8l6.6 -0.8l6.6 -0.8l6.6 -0.7l6.6 -0.7l6.6 -0.7l6.6 -0.7l6.6 -0.7l6.6 -0.7l6.6 -0.6l6.6 -0.7l6.6 -0.6l6.6 -0.6l6.6 -0.6l6.6 -0.6l6.5 -0.5l6.6 -0.6l6.6 -0.5l6.6 -0.6l6.6 -0.5l6.6 -0.5l6.6 -0.5l6.6 -0.5l6.6 -0.4l6.6 -0.5l6.6 -0.4l6.6 -0.5l6.6 -0.4l6.6 -0.5l6.6 -0.4l6.6 -0.4l6.6 -0.4l6.6 -0.4l6.6 -0.4l6.6 -0.4l6.6 -0.4l6.5 -0.3l6.6 -0.4l6.6 -0.4l6.6 -0.4l6.6 -0.3l6.6 -0.4l6.6 -0.4l6.6 -0.4l6.6 -0.3l6.6 -0.4l6.6 -0.4l6.6 -0.3l6.6 -0.4l6.6 -0.4l6.6 -0.4l6.6 -0.3l6.6 -0.4l6.6 -0.4l6.6 -0.4l6.6 -0.4l6.6 -0.4l6.5 -0.3l6.6 -0.4l6.6 -0.4l6.6 -0.3l6.6 -0.3l6.6 -0.4l6.6 -0.3l6.6 -0.3l6.6 -0.3l6.6 -0.3l6.6 -0.2l6.6 -0.2l6.6 -0.2l6.6 -0.2l6.6 -0.2l6.6 -0.1l6.6 -0.1l6.6 -0.1l6.6 -0.1l6.6 -0l6.6 0l6.5 0.1l6.6 0l6.6 0.1l6.6 0.2" stroke="#000000" stroke-width="4.3"/>
</g>
<g class="tk">
<text text-anchor="end" x="272.8" y="69.6">1000</text>
<text text-anchor="end" x="272.8" y="212.7">800</text>
<text text-anchor="end" x="272.8" y="355.8">600</text>
<text text-anchor="end" x="272.8" y="498.9">400</text>
<text text-anchor="end" x="272.8" y="642.0">200</text>
<text text-anchor="end" x="272.8" y="785.1">0</text>
<text text-anchor="end" x="272.8" y="928.2">200</text>
<text transform="translate(136.8 930.5) scale(0.735 1)">−</text>
<text text-anchor="end" x="272.8" y="1071.3">400</text>
<text transform="translate(136.8 1073.6) scale(0.735 1)">−</text>
<text text-anchor="end" x="272.8" y="1214.4">600</text>
<text transform="translate(136.8 1216.7) scale(0.735 1)">−</text>
<text text-anchor="end" x="272.8" y="1357.5">800</text>
<text transform="translate(136.8 1359.8) scale(0.735 1)">−</text>
<text text-anchor="end" x="272.8" y="1500.6">1000</text>
<text transform="translate(101.7 1502.9) scale(0.735 1)">−</text>
</g>
<g class="tk" text-anchor="middle">
<text x="459.9" y="1553">3</text>
<text x="789.6" y="1553">4</text>
<text x="1119.4" y="1553">5</text>
<text x="1449.2" y="1553">6</text>
<text x="1778.9" y="1553">7</text>
<text x="2108.7" y="1553">8</text>
</g>
<text class="lb" text-anchor="middle" x="1201.8" y="1631">R, (Å)</text>
<text class="lb" text-anchor="middle" transform="translate(81.5 766.5) rotate(-90)">V (R), meV</text>
<path class="c" d="M1525.3 144.2H1692.8" stroke="#00ff00" stroke-width="6.0"/>
<text class="lg" x="1703.5" y="161.4">PBE-D3(BJ)</text>
<path class="c" d="M1525.3 208.3H1692.8" stroke="#0000ff" stroke-width="4.8"/>
<text class="lg" x="1703.5" y="225.5">MP2C / CBS</text>
<path class="c" d="M1525.3 273.6H1692.8" stroke="#ff0000" stroke-width="4.8"/>
<text class="lg" x="1703.5" y="290.8">DFT-SAPT</text>
<path class="c" d="M1525.3 338.3H1692.8" stroke="#ff00ff" stroke-width="5.0" stroke-dasharray="21.6 5.4 10.2 5.4"/>
<text class="lg" x="1703.5" y="355.5">M062X</text>
<path class="c" d="M1525.3 402.2H1692.8" stroke="#000000" stroke-width="4.8999999999999995"/>
<text class="lg" x="1703.5" y="419.4">B3LYP-D3(BJ)</text>
</svg>
</body>
</html>
